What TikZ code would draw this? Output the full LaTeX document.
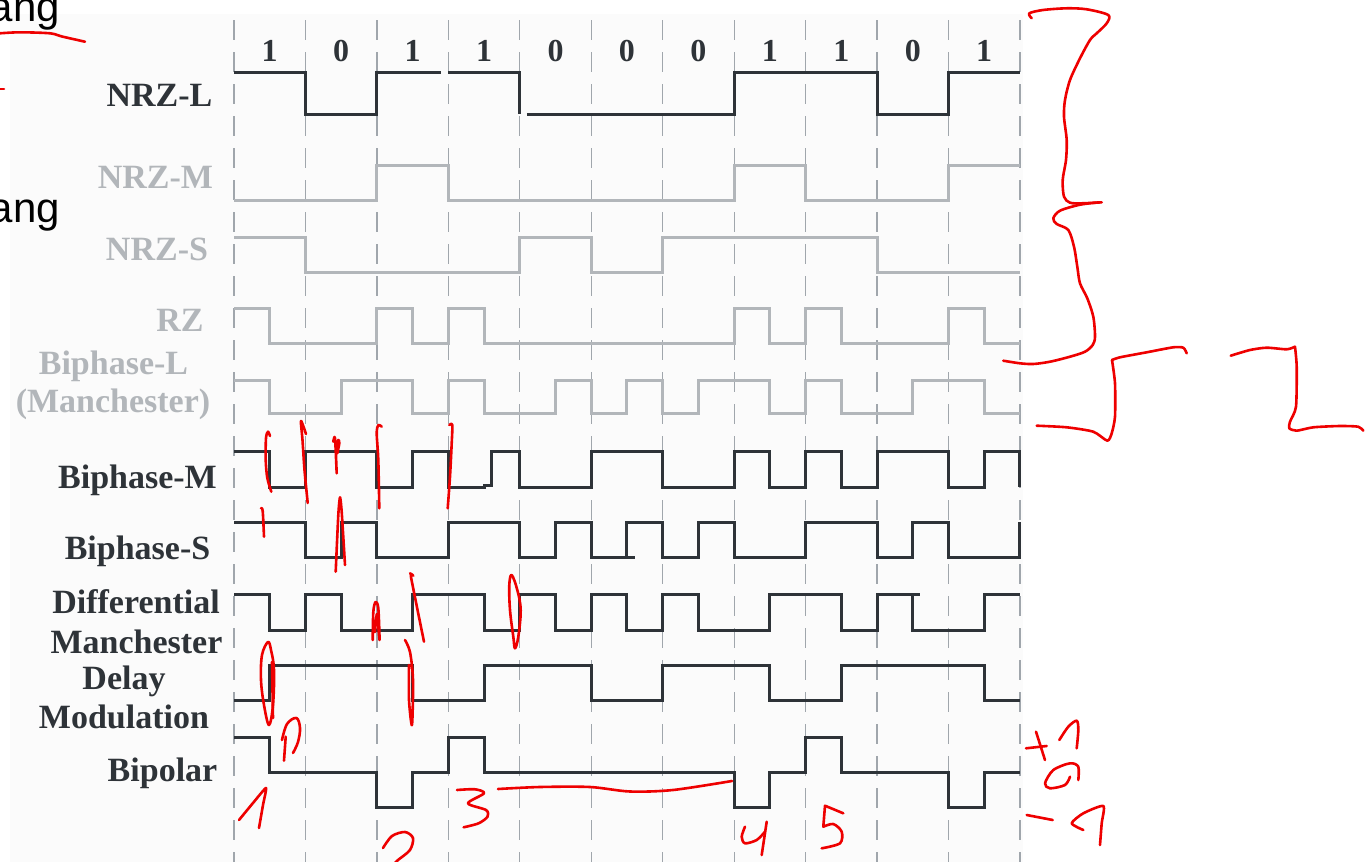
\documentclass[tikz,border=0pt]{standalone}
\usepackage{fontspec}
\setmainfont{Liberation Serif}
\newfontfamily\sansang{Liberation Sans}
\definecolor{ink}{RGB}{46,51,56}
\definecolor{pale}{RGB}{178,182,186}
\definecolor{gridc}{RGB}{160,166,172}
\definecolor{redink}{RGB}{238,0,0}
\definecolor{paper}{RGB}{251,251,251}
\tikzset{
  gridline/.style={gridc,line width=1.3pt,dash pattern=on 20pt off 12pt},
  darksig/.style={ink,line width=3pt,line join=miter},
  palesig/.style={pale,line width=3pt,line join=miter},
  lab/.style={inner sep=0pt,anchor=base,font=\fontsize{34}{40}\selectfont\bfseries},
  digit/.style={inner sep=0pt,anchor=base,text=ink,font=\fontsize{32}{38}\selectfont\bfseries},
  pen/.style={redink,line width=2.6pt,line cap=round,line join=round},
}
\begin{document}
\begin{tikzpicture}[x=1pt,y=-1pt]
\useasboundingbox (0,0) rectangle (1366,862);
\fill[paper] (10,14) rectangle (1023,862);
% grid
\foreach \i in {0,...,11} \draw[gridline] ({234+71.45*\i},20) -- ({234+71.45*\i},862);
% bit digits
\foreach \b [count=\i from 0] in {1,0,1,1,0,0,0,1,1,0,1}
  \node[digit] (d\i) at ({234+71.45*(\i+0.5)},61) {\b};
% labels
\node[lab,text=ink]  (nrzl) at (159.5,106) {NRZ-L};
\node[lab,text=pale] (nrzm) at (155.5,188) {NRZ-M};
\node[lab,text=pale] (nrzs) at (157,260.5) {NRZ-S};
\node[lab,text=pale] (rz)   at (180,331.5) {RZ};
\node[lab,text=pale] (bil1) at (113.5,374) {Biphase-L};
\node[lab,text=pale] (bil2) at (113,412) {(Manchester)};
\node[lab,text=ink]  (bim)  at (137.5,488) {Biphase-M};
\node[lab,text=ink]  (bis)  at (137.5,559) {Biphase-S};
\node[lab,text=ink]  (dm1)  at (136,613) {Differential};
\node[lab,text=ink]  (dm2)  at (136.5,653) {Manchester};
\node[lab,text=ink]  (del1) at (124,689) {Delay};
\node[lab,text=ink]  (del2) at (124,728) {Modulation};
\node[lab,text=ink]  (bip)  at (162.5,781) {Bipolar};
% signals (x in half-bit units)
\begin{scope}[shift={(234,0)},x=35.725pt]
\draw[darksig] (0,72)--(2,72)--(2,114)--(4,114)--(4,72)--(5.8,72);
\draw[darksig] (6,72)--(8,72)--(8,114);
\draw[darksig] (8.2,114)--(14,114)--(14,72)--(18,72)--(18,114)--(20,114)--(20,72)--(22,72);
\draw[palesig] (0,200)--(4,200)--(4,165)--(6,165)--(6,200)--(14,200)--(14,165)--(16,165)--(16,200)--(20,200)--(20,165)--(22,165);
\draw[palesig] (0,237)--(2,237)--(2,272)--(8,272)--(8,237)--(10,237)--(10,272)--(12,272)--(12,237)--(18,237)--(18,272)--(22,272);
\draw[palesig] (0,308)--(1,308)--(1,343)--(4,343)--(4,308)--(5,308)--(5,343)--(6,343)--(6,308)--(7,308)--(7,343)--(14,343)--(14,308)--(15,308)--(15,343)--(16,343)--(16,308)--(17,308)--(17,343)--(20,343)--(20,308)--(21,308)--(21,343)--(22,343);
\draw[palesig] (0,380)--(1,380)--(1,413)--(3,413)--(3,380)--(5,380)--(5,413)--(6,413)--(6,380)--(7,380)--(7,413)--(9,413)--(9,380)--(10,380)--(10,413)--(11,413)--(11,380)--(12,380)--(12,413)--(13,413)--(13,380)--(15,380)--(15,413)--(16,413)--(16,380)--(17,380)--(17,413)--(19,413)--(19,380)--(21,380)--(21,413)--(22,413);
\draw[darksig] (0,451)--(1,451)--(1,487)--(2,487)--(2,451)--(4,451)--(4,487)--(5,487)--(5,451)--(6,451)--(6,487)--(7,487)--(7,485)--(7.2,485)--(7.2,451)--(8,451)--(8,487)--(10,487)--(10,451)--(12,451)--(12,487)--(14,487)--(14,451)--(15,451)--(15,487)--(16,487)--(16,451)--(17,451)--(17,487)--(18,487)--(18,451)--(20,451)--(20,487)--(21,487)--(21,451)--(22,451)--(22,487);
\draw[darksig] (0,522)--(2,522)--(2,557)--(3,557)--(3,522)--(4,522)--(4,557)--(6,557)--(6,522)--(8,522)--(8,557)--(9,557)--(9,522)--(10,522)--(10,557)--(11,557)--(11,522)--(12,522)--(12,557)--(13,557)--(13,522)--(14,522)--(14,557)--(16,557)--(16,522)--(18,522)--(18,557)--(19,557)--(19,522)--(20,522)--(20,557)--(22,557)--(22,522);
\draw[darksig] (11,557)--(11.22,557);
\draw[darksig] (0,594)--(1,594)--(1,630)--(2,630)--(2,594)--(3,594)--(3,630)--(5,630)--(5,594)--(7,594)--(7,630)--(8,630)--(8,594)--(9,594)--(9,630)--(10,630)--(10,594)--(11,594)--(11,630)--(12,630)--(12,594)--(13,594)--(13,630)--(15,630)--(15,594)--(17,594)--(17,630)--(18,630)--(18,594)--(19,594)--(19,630)--(21,630)--(21,594)--(22,594);
\draw[darksig] (19,594)--(19.2,594);
\draw[darksig] (0,700)--(1,700)--(1,665)--(5,665)--(5,700)--(7,700)--(7,665)--(10,665)--(10,700)--(12,700)--(12,665)--(15,665)--(15,700)--(17,700)--(17,665)--(21,665)--(21,700)--(22,700);
\draw[darksig] (0,737)--(1,737)--(1,772)--(4,772)--(4,807)--(5,807)--(5,772)--(6,772)--(6,737)--(7,737)--(7,772)--(14,772)--(14,807)--(15,807)--(15,772)--(16,772)--(16,737)--(17,737)--(17,772)--(20,772)--(20,807)--(21,807)--(21,772)--(22,772);
\end{scope}
% pasted text (cut at the left edge, as in the reference)
\node[anchor=base east,inner sep=0pt,font=\sansang\fontsize{42}{48}\selectfont] (ang1) at (60,21) {ang};
\node[anchor=base east,inner sep=0pt,font=\sansang\fontsize{42}{48}\selectfont] (ang2) at (60,222) {ang};
% red handwriting
\draw[pen] plot[smooth] coordinates {(0,33.3)(20,32.3)(50,33.3)(62,36.5)(85,41.7)};
\draw[pen] (0,89)--(4,89);
\draw[pen] plot[smooth,tension=0.5] coordinates {(1031.7,18.3)(1029.3,13.3)(1043,10)(1066.7,8.3)(1086.7,9.3)(1108.3,15)(1106.7,23.3)(1096.7,33.3)(1090,40)(1080,58.3)(1070,80)(1065,100)(1064,116.7)(1066.7,140)(1066,160)(1062.7,180)(1064,196.7)(1070,202.7)(1081.7,203.3)(1101.7,202.3)};
\draw[pen] plot[smooth,tension=0.5] coordinates {(1100,202.3)(1080,204.7)(1060,210.7)(1053.3,218.3)(1056.7,224)(1068.3,230)(1074,246.7)(1077.3,266.7)(1080,283.3)(1087.3,298.3)(1093.3,316.7)(1095,336.7)(1092.7,345)(1085,351.7)(1070,356.7)(1050,361.7)(1033.3,364)(1020,363.3)(1003.3,360.7)};
\draw[pen] plot[smooth,tension=0.4] coordinates {(1036.7,425.7)(1066.7,427.3)(1093.3,431.7)(1107.3,440.7)(1111.7,433.3)(1115,416.7)(1115,383.3)(1112,360)};
\draw[pen] plot[smooth,tension=0.4] coordinates {(1112,360)(1120,357.3)(1146.7,352.3)(1173.3,347.3)(1183.3,347.7)(1186.7,353.3)};
\draw[pen] plot[smooth,tension=0.4] coordinates {(1230.7,355.7)(1250,350)(1266.7,347.7)(1286.7,349.3)(1295,346.7)};
\draw[pen] plot[smooth,tension=0.4] coordinates {(1295,346.7)(1296.7,366.7)(1296,406.7)(1290,421.7)(1289.3,428.3)(1296.7,430.7)(1313.3,427.3)(1340,426)(1358.3,426.7)(1363.3,430.7)};
% Biphase-M ticks
\draw[pen] plot[smooth,tension=0.5] coordinates {(270,436)(268,431.7)(266,438)(265.7,460)(267.3,478)(271.3,491.7)};
\draw[pen] plot[smooth,tension=0.5] coordinates {(306,434)(301,421)(302.5,440)(304.5,470)(307.7,503)};
\draw[pen] plot[smooth,tension=0.5] coordinates {(333.3,441.7)(335,438.3)(336.7,473.3)(336,450)(338.3,440)(339.3,443.3)(337.3,453.3)};
\draw[pen] plot[smooth,tension=0.5] coordinates {(381.7,426.7)(378.3,425)(376.7,433.3)(378.3,460)(379.3,508.3)};
\draw[pen] plot[smooth,tension=0.5] coordinates {(449.3,425)(452.3,425)(451.7,443.3)(450,476.7)(447.7,508.3)};
% Biphase-S ticks
\draw[pen] plot[smooth,tension=0.5] coordinates {(261,508.3)(262.7,511)(264,536.7)};
\draw[pen] plot[smooth,tension=0.4] coordinates {(335.7,571.7)(338.3,515)(340,497.3)(341.7,512)(345,565)};
% Differential Manchester marks
\draw[pen] plot[smooth,tension=0.5] coordinates {(372.7,640)(373.3,612)(375.5,602)(378.3,608)(379.5,640)(377,614)(375,632)};
\draw[pen] plot[smooth,tension=0.3] coordinates {(410,573.3)(413.3,575.7)(411,577)(424,641.7)};
\draw[pen] plot[smooth cycle,tension=0.6] coordinates {(511.7,575)(509.3,585)(510,610)(513.3,636.7)(515,648.3)(518.3,636.7)(520.7,610)(517.3,590)};
% Delay modulation marks
\draw[pen] plot[smooth cycle,tension=0.6] coordinates {(268,642)(262,655)(261,680)(264,705)(269,725)(273,705)(274,670)(271,650)};
\draw[pen] (272,662)--(273,718);
\draw[pen] plot[smooth,tension=0.5] coordinates {(405,640)(410,652)(413,680)(412,725)(409,700)(409,665)};
% Bipolar marks
\draw[pen] (284,760.7)--(285.7,736.7);
\draw[pen] plot[smooth,tension=0.6] coordinates {(282,740)(287,724)(296.4,718)(300,728)(298,742)(293,753)};
\draw[pen] plot[smooth,tension=0.3] coordinates {(239,820)(253,803)(266,788)(263,805)(259,828)};
\draw[pen] plot[smooth,tension=0.5] coordinates {(383,848)(392,836)(405,832)(413,838)(410,850)(398,860)(394,864)};
\draw[pen] plot[smooth,tension=0.5] coordinates {(457,790)(475,789.3)(484,793.3)(468,803.3)(486,810)(487.5,816.7)(478.6,823.3)(463.6,827.3)};
\draw[pen] plot[smooth,tension=0.5] coordinates {(498,789)(540,787)(590,787)(630,791.5)(673,790)(732,781)};
\draw[pen] plot[smooth,tension=0.5] coordinates {(745,826.7)(741.7,836.7)(745,843.3)(756.7,840)(765,831.7)};
\draw[pen] (766.7,821.7)--(761.7,855);
\draw[pen] (843.3,813.3)--(825,805.7)--(823.3,826.7);
\draw[pen] plot[smooth,tension=0.5] coordinates {(823.3,826.7)(833.3,824)(841.7,831.7)(840,843.3)(821.7,848.3)};
\draw[pen] (1026,748.3)--(1046.7,746);
\draw[pen] (1036,731.7)--(1045,760);
\draw[pen] plot[smooth,tension=0.5] coordinates {(1059.3,740)(1068.3,726.7)(1076.7,720.7)(1078.3,730)(1076.7,748.3)};
\draw[pen] plot[smooth,tension=0.5] coordinates {(1078.3,780)(1078.3,766.7)(1070,763.3)(1053.3,770)(1045,783.3)(1050,788.3)(1065,785)(1070,776.7)};
\draw[pen] (1026.7,815)--(1052.7,820);
\draw[pen] plot[smooth,tension=0.4] coordinates {(1083.3,830)(1071.7,823.3)(1083.3,813.3)(1103.3,806)(1101.7,823.3)(1100,845)};
\end{tikzpicture}
\end{document}
